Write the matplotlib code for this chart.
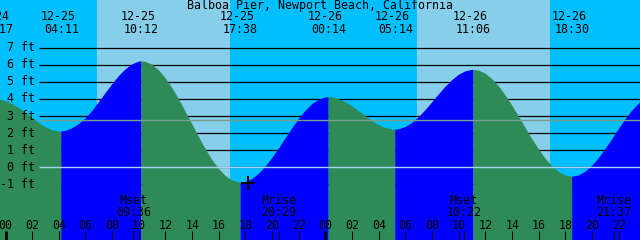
import matplotlib
matplotlib.use("Agg")
import matplotlib.pyplot as plt
import numpy as np

station = "Balboa Pier, Newport Beach, California"

# tide height every half hour (hours from 12-25 00:00)
hours = [i / 2 for i in range(-2, 97)]
heights = [3.99, 3.99, 3.90, 3.72, 3.48, 3.19, 2.89, 2.61, 2.36, 2.19,
           2.11, 2.13, 2.28, 2.52, 2.85, 3.28, 3.80, 4.33, 4.85, 5.33,
           5.72, 6.02, 6.18, 6.17, 6.00, 5.68, 5.22, 4.65, 3.99, 3.27,
           2.53, 1.78, 1.07, 0.44, -0.09, -0.50, -0.77, -0.89, -0.86, -0.69,
           -0.38, 0.03, 0.53, 1.09, 1.68, 2.27, 2.82, 3.30, 3.69, 3.95,
           4.08, 4.09, 3.99, 3.81, 3.57, 3.29, 2.99, 2.71, 2.47, 2.30,
           2.21, 2.22, 2.35, 2.59, 2.93, 3.34, 3.80, 4.26, 4.71, 5.09,
           5.41, 5.61, 5.70, 5.66, 5.48, 5.16, 4.74, 4.21, 3.62, 2.97,
           2.31, 1.66, 1.05, 0.51, 0.06, -0.27, -0.48, -0.55, -0.48, -0.26,
           0.09, 0.53, 1.07, 1.64, 2.24, 2.80, 3.31, 3.72, 4.01]

# high / low tides
extreme_dates = ["12-24", "12-25", "12-25", "12-25", "12-26", "12-26", "12-26", "12-26", "12-27"]
extreme_clock = ["23:17", "04:11", "10:12", "17:38", "00:14", "05:14", "11:06", "18:30", "01:20"]
extreme_heights = [4.0, 2.1, 6.2, -0.9, 4.1, 2.2, 5.7, -0.55, 4.3]

# daylight
sunrise = ["12-25 06:50", "12-26 06:50"]
sunset = ["12-25 16:50", "12-26 16:50"]

# moon
moon_names = ["Mset", "Mrise", "Mset", "Mrise"]
moon_dates = ["12-25", "12-25", "12-26", "12-26"]
moon_clock = ["09:36", "20:29", "10:22", "21:37"]

ft_levels = [-1, 0, 1, 2, 3, 4, 5, 6, 7]
mean_level = 2.75

NIGHT = "#00bfff"
DAY = "#87ceeb"
RISE = "#0000ff"
FALL = "#2e8b57"
FONT = "DejaVu Sans Mono"
FS = 8.4


def to_hours(date, clock):
    day = int(date[3:]) - 25
    hh, mm = clock.split(":")
    return day * 24 + int(hh) + int(mm) / 60.0


def px_x(px):
    return (px - 5.5) / 13.333


def py(px):
    # pixel row -> axes fraction
    return 1 - px / 240


def main():
    fig = plt.figure(figsize=(6.4, 2.4), dpi=100)
    ax = fig.add_axes([0, 0, 1, 1])
    x0, x1 = px_x(0), px_x(640)
    ax.set_xlim(x0, x1)
    ax.set_ylim((167.3 - 240) / 17.1, 167.3 / 17.1)
    ax.axis("off")
    tr = ax.get_xaxis_transform()

    ax.axvspan(x0 - 5, x1 + 5, color=NIGHT, lw=0, zorder=0)
    for a, b in zip(sunrise, sunset):
        ax.axvspan(to_hours(a[:5], a[6:]), to_hours(b[:5], b[6:]), color=DAY, lw=0, zorder=0)

    line_start = px_x(39)
    for v in ft_levels:
        ax.hlines(v, line_start, x1, color="black", lw=0.9, zorder=1)
        ax.text(35 / 640, py(167.3 - 17.1 * v), f"{v} ft", transform=ax.transAxes,
                ha="right", va="center", fontsize=FS, family=FONT, zorder=5)

    ext_t = [to_hours(d, c) for d, c in zip(extreme_dates, extreme_clock)]
    t_all = np.array(hours + ext_t, dtype=float)
    h_all = np.array(heights + extreme_heights, dtype=float)
    order = np.argsort(t_all, kind="stable")
    t_all, h_all = t_all[order], h_all[order]

    bottom = -10
    first = t_all <= ext_t[0]
    ax.fill_between(t_all[first], h_all[first], bottom, color=RISE, lw=0, zorder=2)
    for i in range(len(ext_t) - 1):
        m = (t_all >= ext_t[i]) & (t_all <= ext_t[i + 1])
        col = RISE if extreme_heights[i + 1] > extreme_heights[i] else FALL
        ax.fill_between(t_all[m], h_all[m], bottom, color=col, lw=0, zorder=2)

    ax.hlines(mean_level, line_start, x1, color="#7a9c8a", lw=1.0, zorder=3)
    ax.hlines(0, line_start, x1, color="#a4d4f0", lw=1.0, zorder=3)

    ax.plot([px_x(248)], [-0.92], marker="+", color="black", ms=10, mew=1.4, zorder=4)

    ax.text(px_x(320), py(5.5), station, transform=tr, ha="center", va="center",
            fontsize=FS, family=FONT, zorder=5)
    for t, d, c in zip(ext_t, extreme_dates, extreme_clock):
        ax.annotate(d, (t, py(17)), xycoords=tr, xytext=(-3.5, 0),
                    textcoords="offset pixels", ha="center", va="center",
                    fontsize=FS, family=FONT, zorder=5)
        ax.text(t, py(29.2), c, transform=tr, ha="center", va="center",
                fontsize=FS, family=FONT, zorder=5)

    for hr in range(0, 49, 2):
        ax.text(hr, py(225.3), f"{hr % 24:02d}", transform=tr, ha="center",
                va="center", fontsize=FS, family=FONT, zorder=5)
        lw = 1.9 if hr % 24 == 0 else 0.75
        ax.vlines(hr, 0, 9 / 240, transform=tr, color="black", lw=lw, zorder=5)

    for n, d, c in zip(moon_names, moon_dates, moon_clock):
        t = to_hours(d, c)
        ax.text(t, py(201), n, transform=tr, ha="center", va="center",
                fontsize=FS, family=FONT, zorder=5)
        ax.text(t, py(213), c, transform=tr, ha="center", va="center",
                fontsize=FS, family=FONT, zorder=5)
        ax.vlines(t, 0, 9 / 240, transform=tr, color="black", lw=0.75, zorder=5)

    fig.savefig("out.png", dpi=100)


if __name__ == "__main__":
    main()
